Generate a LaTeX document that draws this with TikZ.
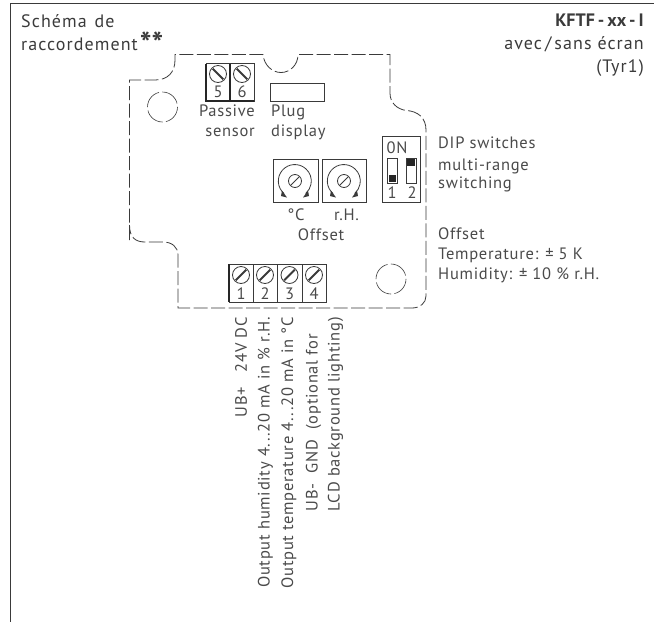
\documentclass[tikz,border=0pt]{standalone}
\usepackage{fontspec}
\setmainfont{PT Sans}
\definecolor{tx}{HTML}{4A4A4A}
\definecolor{ln}{HTML}{3A3A3A}
\tikzset{
 lbl/.style={font=\fontsize{16.5}{20}\selectfont\addfontfeature{LetterSpace=4.5},text=tx,inner sep=0pt,align=left},
 clbl/.style={lbl,align=center},
 vlbl/.style={lbl,rotate=90,anchor=east,align=left},
 head/.style={lbl,font=\fontsize{18}{23}\selectfont\addfontfeature{LetterSpace=6},text=tx!80!black},
 outline/.style={draw=ln,line width=.8pt,dash pattern=on 14pt off 3.5pt},
 boxln/.style={draw=ln,line width=.8pt},
 heavy/.style={draw=black!85,line width=1.5pt},
 hole/.style={draw=ln,line width=.6pt,dash pattern=on 20pt off 3.5pt},
 slot/.style={draw=ln,line width=2pt}
}
\newcommand{\screw}[3]{% x,y,angle
 \draw[boxln] (#1,#2) circle (8.5);
 \draw[slot,rotate around={#3:(#1,#2)}] (#1-7.5,#2) -- (#1+7.5,#2);
}
\begin{document}
\begin{tikzpicture}[x=1pt,y=-1pt]
\useasboundingbox (0,0) rectangle (654,622);
% frame
\coordinate (fa) at (654,3.5);
\coordinate (fb) at (10,3.5);
\coordinate (fc) at (10,622);
\draw[draw=ln,line width=.9pt] (fa) -- (fb) -- (fc);
% headings
\node[head,anchor=north west] (title) at (21,14) {Schéma\hspace{2pt} de\\raccordement\hspace{2pt}\raisebox{-4pt}{\fontsize{31}{31}\selectfont\addfontfeature{LetterSpace=0}\bfseries **}};
\node[head,anchor=north east,align=right] (kf) at (644,14) {{\addfontfeature{LetterSpace=0}\bfseries KFTF\,-\,xx\,-\,I}\\avec\hspace{3pt}/\hspace{3pt}sans écran\\(Tyr1)};
% housing
\draw[outline] (129.5,240) -- (129.5,80) -- (155,80)
 .. controls (168,80) and (175,72) .. (175,60) -- (175,54.5) -- (263,54.5)
 .. controls (264,65) and (272,72.5) .. (281,72.5) .. controls (290,72.5) and (298,65) .. (298,54.5)
 -- (390,54.5) -- (390,93) .. controls (390,103) and (397,109) .. (406,110.5)
 .. controls (418,111) and (426,118) .. (426,130) -- (426,296)
 .. controls (426,303) and (420,308) .. (412,308) -- (178,308) -- (178,255)
 .. controls (178,247) and (172,242) .. (163,242) -- (145,242) .. controls (136,242) and (129.5,238) .. (129.5,225);
\draw[hole] (162.5,107) circle (15);
\draw[hole] (391,279) circle (15);
% terminal 5 6
\draw[boxln] (206,63.5) rectangle (254,101);
\draw[heavy] (206,63.5) -- (206,101) -- (254,101);
\draw[heavy] (230,63.5) -- (230,101);
\screw{218}{74}{-45}
\screw{242}{74}{-45}
\node[clbl] (n5) at (218,92) {5};
\node[clbl] (n6) at (242,92) {6};
\node[lbl,anchor=north east,align=right] (ps) at (255,105) {Passive\\sensor};
% plug display
\draw[boxln] (270.5,83) rectangle (324,101);
\node[lbl,anchor=north west] (pd) at (271,105) {Plug\\display};
% pots
\draw[boxln] (273,159) rectangle (318,202);
\draw[boxln] (322,159) rectangle (366.5,202);
\foreach \cx in {295,344}{
 \draw[boxln] (\cx,181) circle (6.5);
 \draw[boxln] (\cx-4.5,185.5) -- (\cx+4.5,176.5);
 \draw[boxln] (\cx-11,193.5) arc[start angle=131,end angle=409,radius=16.5];
 \fill[ln] (\cx-8,197.5) -- (\cx-13,190.5) -- (\cx-14,196) -- cycle;
 \fill[ln] (\cx+8,197.5) -- (\cx+13,190.5) -- (\cx+14,196) -- cycle;
}
\node[clbl] (degc) at (296,215) {°C};
\node[clbl] (rh) at (346.5,215) {r.H.};
\node[clbl] (off) at (321,235) {Offset};
% DIP
\draw[boxln] (382.5,136.5) rectangle (420,202.5);
\node[clbl] (on) at (397,148) {0N};
\draw[boxln] (387.5,158) rectangle (397,183);
\fill[black!85] (388.5,174.5) rectangle (396,182);
\draw[boxln] (406,158) rectangle (416,183);
\fill[black!85] (407,159) rectangle (415,166);
\node[clbl] (d1) at (392,193) {1};
\node[clbl] (d2) at (412,193) {2};
\node[lbl,anchor=north west] (dip) at (438,136.5) {DIP switches\\[2pt]multi-range\\[-2pt]switching};
\node[lbl,anchor=north west] (offs) at (438,228) {Offset\\Temperature: ± 5 K\\Humidity: ± 10 \% r.H.};
% terminal 1-4
\draw[boxln] (229,264) rectangle (326,302);
\foreach \x in {253.5,277.5,302}{\draw[boxln] (\x,264) -- (\x,302);}
\draw[heavy] (229,264) -- (229,302);
\foreach \x/\n in {241/1,265/2,289.5/3,314/4}{
 \screw{\x}{275}{45}
 \node[clbl] at (\x,293.5) {\n};
}
% vertical labels
\node[vlbl] (v1) at (241,317) {UB+\hspace{15pt}24V DC};
\node[vlbl] (v2) at (265.5,317) {Output humidity 4...20 mA in \% r.H.};
\node[vlbl] (v3) at (289,317) {Output temperature 4...20 mA in °C};
\node[vlbl,font=\fontsize{16.5}{22}\selectfont\addfontfeature{LetterSpace=4.5}] (v4) at (324.5,317) {UB-\ \ GND \ (optional for\\LCD background lighting)};
\end{tikzpicture}
\end{document}
